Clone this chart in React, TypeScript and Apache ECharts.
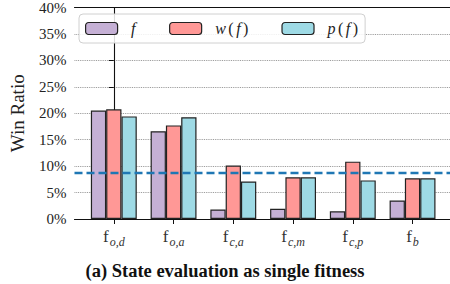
import React, { useEffect, useRef } from "react";
import * as echarts from "echarts";

const categories = ["o,d", "o,a", "c,a", "c,m", "c,p", "b"];
const seriesNames = ["f", "w(f)", "p(f)"];
const fValues = [20.5, 16.6, 1.8, 1.95, 1.45, 3.5];
const wValues = [20.75, 17.7, 10.1, 7.9, 10.85, 7.7];
const pValues = [19.4, 19.25, 7.1, 7.9, 7.3, 7.7];
const baseline = 8.7;
const yTicks = [0, 5, 10, 15, 20, 25, 30, 35, 40];
const colors = ["#c5b0d5", "#ff9896", "#9edae5"];

const SERIF = "Liberation Serif";

export default function App() {
  const ref = useRef<HTMLDivElement>(null);
  useEffect(() => {
    if (!ref.current) return;
    const chart = echarts.init(ref.current, undefined, { renderer: "svg" });
    const positions = categories.map((_, i) => i);
    const allValues = [fValues, wValues, pValues];
    const legendRich = {
      i: { fontFamily: SERIF, fontStyle: "italic", fontSize: 16, color: "#222", padding: [0, 1.5, 0, 1.5] },
      r: { fontFamily: SERIF, fontSize: 16, color: "#222", padding: [0, 1, 0, 1] },
    };
    chart.setOption({
      animation: false,
      textStyle: { fontFamily: SERIF },
      grid: { left: 71, right: 0, top: 6.4, bottom: 65, containLabel: false },
      title: {
        text: "(a) State evaluation as single fitness",
        left: "center",
        top: 256,
        textStyle: { fontFamily: SERIF, fontWeight: "bold", fontSize: 18.5, color: "#111" },
      },
      legend: {
        left: 79,
        top: 14,
        orient: "horizontal",
        itemWidth: 32,
        itemHeight: 12,
        itemGap: 32,
        padding: [6, 6, 6, 6],
        borderColor: "#d0d0d0",
        borderWidth: 1,
        borderRadius: 4,
        backgroundColor: "rgba(255,255,255,0.85)",
        data: seriesNames,
        formatter: (name: string) => {
          if (name === "f") return "{i|f}";
          const c = name.charAt(0);
          return `{i|${c}}{r|(}{i|f}{r|)}`;
        },
        textStyle: { padding: [0, 0, 0, 7], rich: legendRich, fontFamily: SERIF, fontSize: 16, lineHeight: 17 },
        itemStyle: { borderColor: "#222", borderWidth: 1.2 },
      },
      xAxis: [
        {
          type: "value",
          min: -0.658,
          max: 5.627,
          splitLine: { show: false },
          axisLine: { show: true, onZero: false, lineStyle: { color: "#111", width: 1.1 } },
          axisTick: { show: true, length: 5, customValues: positions, lineStyle: { color: "#111" } },
          axisLabel: {
            customValues: positions,
            margin: 8,
            formatter: (v: number) => {
              const idx = Math.round(v);
              return `{m|f}{s|${categories[idx]}}`;
            },
            rich: {
              m: { fontFamily: SERIF, fontSize: 17, color: "#333", verticalAlign: "bottom", lineHeight: 18 },
              s: {
                fontFamily: SERIF,
                fontStyle: "italic",
                fontSize: 12,
                color: "#333",
                verticalAlign: "bottom",
                lineHeight: 14,
                padding: [0, 0, -3, 1],
              },
            },
          },
        },
        {
          type: "value",
          position: "top",
          min: -0.658,
          max: 5.627,
          splitLine: { show: false },
          axisLine: { show: true, onZero: false, lineStyle: { color: "#111", width: 1.1 } },
          axisTick: { show: false },
          axisLabel: { show: false },
        },
      ],
      yAxis: {
        type: "value",
        min: 0,
        max: 40,
        interval: 5,
        name: "Win Ratio",
        nameLocation: "middle",
        nameRotate: 90,
        nameGap: 47.5,
        nameTextStyle: { fontFamily: SERIF, fontSize: 19, color: "#222" },
        axisLine: { show: true, lineStyle: { color: "#111", width: 1.1 } },
        axisTick: { show: true, length: 5, lineStyle: { color: "#111" } },
        axisLabel: {
          customValues: yTicks,
          formatter: (v: number) => `${v}%`,
          fontFamily: SERIF,
          fontSize: 15,
          color: "#222",
          margin: 8,
        },
        splitLine: { show: true, lineStyle: { color: "#888", type: "dotted", width: 0.9 } },
      },
      series: seriesNames.map((name, si) => ({
        name,
        type: "bar",
        xAxisIndex: 0,
        barWidth: 15.3,
        barGap: "0%",
        data: positions.map((p, i) => [p, allValues[si][i]]),
        itemStyle: { color: colors[si], borderColor: "#222", borderWidth: 1.2 },
        markLine:
          si === 0
            ? {
                silent: true,
                symbol: "none",
                label: { show: false },
                lineStyle: { color: "#1f77b4", type: [8, 4], width: 2.4 },
                data: [{ yAxis: baseline }],
                z: 10,
              }
            : undefined,
      })),
    });
    return () => chart.dispose();
  }, []);
  return (
    <div
      ref={ref}
      style={{ position: "fixed", left: 0, top: 0, width: 450, height: 284, background: "#fff" }}
    />
  );
}
